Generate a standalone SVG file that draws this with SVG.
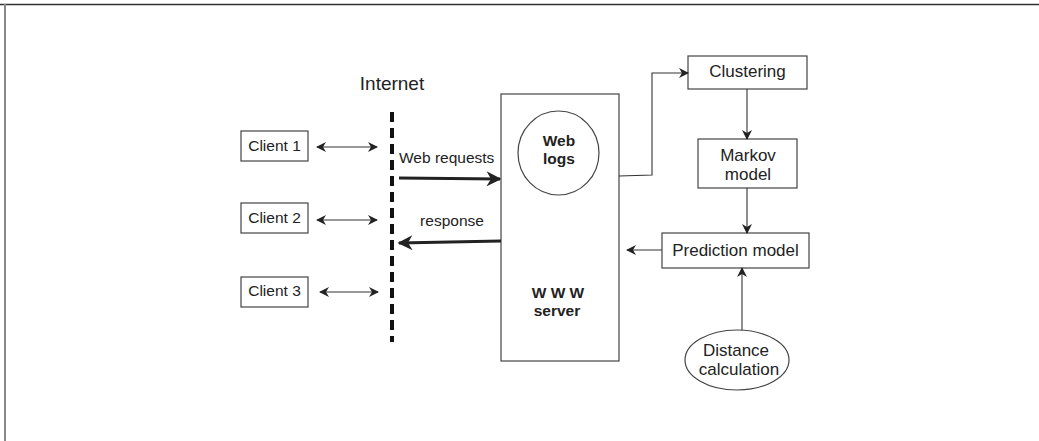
<svg xmlns="http://www.w3.org/2000/svg" width="1039" height="441" viewBox="0 0 1039 441">
<style>
.box{fill:#fff;stroke:#444;stroke-width:1.2}
.t{font-family:"Liberation Sans",Arial,sans-serif;font-size:15.5px;fill:#222;text-anchor:middle}
.r{font-size:17px}
.b{font-weight:bold}
.ln{fill:none;stroke:#333;stroke-width:1.1}
.thick{fill:none;stroke:#222;stroke-width:3}
</style>
<defs>
<marker id="ah" viewBox="0 0 10 10" refX="9" refY="5" markerWidth="10" markerHeight="10" markerUnits="userSpaceOnUse" orient="auto-start-reverse">
<path d="M0,0 L10,5 L0,10 L3,5 z" fill="#222"/>
</marker>
<marker id="ahb" viewBox="0 0 10 10" refX="9" refY="5" markerWidth="5" markerHeight="5" orient="auto">
<path d="M0,0 L10,5 L0,10 L3,5 z" fill="#222"/>
</marker>
</defs>
<rect width="1039" height="441" fill="#fff"/>
<line x1="0" y1="4.5" x2="1039" y2="4.5" stroke="#333" stroke-width="1.5"/>
<line x1="5" y1="4" x2="5" y2="441" stroke="#888" stroke-width="2"/>

<g id="internet">
<text x="392" y="90" class="t" style="font-size:19px">Internet</text>
<line x1="392" y1="112" x2="392" y2="342" stroke="#111" stroke-width="4" stroke-dasharray="10,6"/>
</g>
<g id="client1"><rect x="241" y="131" width="67" height="30" class="box"/><text x="274.5" y="151" class="t">Client 1</text></g>
<g id="client2"><rect x="241" y="203" width="67" height="30" class="box"/><text x="274.5" y="223" class="t">Client 2</text></g>
<g id="client3"><rect x="241" y="277" width="67" height="30" class="box"/><text x="274.5" y="296" class="t">Client 3</text></g>
<g id="server">
<rect x="501" y="94" width="118" height="267" class="box"/>
<text x="558" y="298" class="t b">W W W</text>
<text x="557" y="316" class="t b">server</text>
</g>
<g id="weblogs">
<ellipse cx="558.5" cy="153" rx="40.5" ry="42" class="box"/>
<text x="559" y="146" class="t b">Web</text>
<text x="559" y="164" class="t b">logs</text>
</g>
<g id="clustering"><rect x="688" y="56" width="119" height="33" class="box"/><text x="747.5" y="77" class="t r">Clustering</text></g>
<g id="markov"><rect x="698" y="139" width="99" height="49" class="box"/><text x="748" y="161" class="t r">Markov</text><text x="748" y="180" class="t r">model</text></g>
<g id="prediction"><rect x="662" y="233" width="147" height="35" class="box"/><text x="735.5" y="256" class="t r">Prediction model</text></g>
<g id="distance"><ellipse cx="737" cy="360" rx="52" ry="30" class="box"/><text x="736" y="356" class="t r">Distance</text><text x="739" y="375" class="t r">calculation</text></g>

<g id="connectors">
<line x1="317" y1="147" x2="377" y2="147" class="ln" marker-start="url(#ah)" marker-end="url(#ah)"/>
<line x1="317" y1="220" x2="377" y2="220" class="ln" marker-start="url(#ah)" marker-end="url(#ah)"/>
<line x1="320" y1="292" x2="378" y2="292" class="ln" marker-start="url(#ah)" marker-end="url(#ah)"/>
<text x="399" y="163" class="t" style="text-anchor:start">Web requests</text>
<line x1="399" y1="178" x2="500" y2="179" class="thick" marker-end="url(#ahb)"/>
<text x="452" y="226" class="t">response</text>
<line x1="501" y1="241" x2="399" y2="243" class="thick" marker-end="url(#ahb)"/>
<polyline points="619,176 652,175 652,73 688,73" class="ln" marker-end="url(#ah)"/>
<line x1="747" y1="89" x2="747" y2="139" class="ln" marker-end="url(#ah)"/>
<line x1="747" y1="188" x2="747" y2="233" class="ln" marker-end="url(#ah)"/>
<line x1="662" y1="250" x2="627" y2="250" class="ln" marker-end="url(#ah)"/>
<line x1="742" y1="330" x2="742" y2="268" class="ln" marker-end="url(#ah)"/>
</g>
</svg>
